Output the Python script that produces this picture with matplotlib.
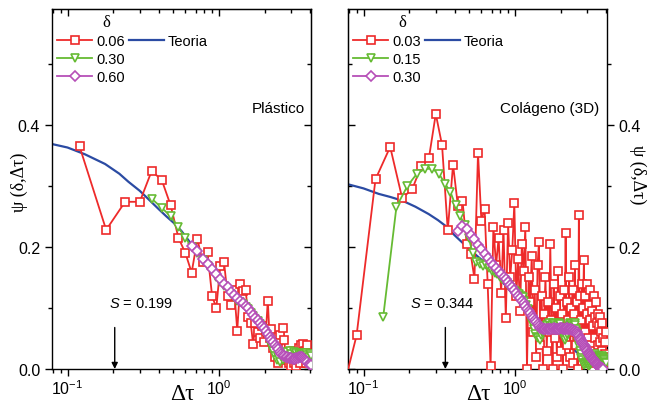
import numpy as np
import matplotlib
matplotlib.use('Agg')
import matplotlib.pyplot as plt
from matplotlib.ticker import MultipleLocator, LogLocator, NullFormatter
from matplotlib.lines import Line2D

plt.rcParams['font.family'] = ['Liberation Sans', 'DejaVu Sans']
plt.rcParams['mathtext.fontset'] = 'custom'
plt.rcParams['mathtext.rm'] = 'Liberation Sans'
plt.rcParams['mathtext.it'] = 'Liberation Sans:italic'
plt.rcParams['mathtext.bf'] = 'Liberation Sans:bold'

# ---------------- data: left panel (Plástico) ----------------
left_deltas = ['0.06', '0.30', '0.60']
left_step = 0.06
left_start = [0.12, 0.36, 0.66]
left_red = [0.365, 0.228, 0.274, 0.274, 0.325, 0.309, 0.268, 0.215, 0.190, 0.158,
            0.213, 0.176, 0.191, 0.120, 0.100, 0.169, 0.175, 0.120, 0.105, 0.130,
            0.063, 0.139, 0.128, 0.130, 0.085, 0.075, 0.041, 0.075, 0.060, 0.050,
            0.070, 0.045, 0.060, 0.112, 0.050, 0.065, 0.035, 0.020, 0.045, 0.010,
            0.055, 0.020, 0.068, 0.048, 0.015, 0.025, 0.010, 0.020, 0.005, 0.030,
            0.010, 0.025, 0.005, 0.015, 0.035, 0.010, 0.040, 0.025, 0.041, 0.020,
            0.030, 0.010, 0.040, 0.025, 0.015, 0.020]
left_green = [0.279, 0.264, 0.250, 0.232, 0.215, 0.200, 0.190, 0.178, 0.168, 0.160,
              0.150, 0.143, 0.136, 0.129, 0.123, 0.118, 0.112, 0.109, 0.106, 0.102,
              0.098, 0.092, 0.087, 0.082, 0.078, 0.073, 0.068, 0.063, 0.058, 0.052,
              0.045, 0.038, 0.030, 0.022, 0.015, 0.020, 0.012, 0.022, 0.015, 0.025,
              0.020, 0.028, 0.022, 0.030, 0.025, 0.020, 0.028, 0.022, 0.026, 0.020,
              0.025, 0.022, 0.027, 0.024, 0.020, 0.025, 0.022, 0.026, 0.023, 0.020,
              0.024, 0.022]
left_purple = [0.202, 0.193, 0.181, 0.172, 0.164, 0.156, 0.148, 0.140, 0.134, 0.127,
               0.121, 0.116, 0.112, 0.108, 0.104, 0.100, 0.094, 0.089, 0.084, 0.080,
               0.076, 0.071, 0.067, 0.063, 0.058, 0.053, 0.048, 0.044, 0.040, 0.036,
               0.032, 0.028, 0.025, 0.023, 0.021, 0.020, 0.019, 0.018, 0.018, 0.018,
               0.017, 0.017, 0.017, 0.018, 0.018, 0.019, 0.019, 0.020, 0.019, 0.018,
               0.017, 0.015, 0.013, 0.011, 0.009, 0.008, 0.007]
left_theory_x = [0.078, 0.10, 0.13, 0.177, 0.22, 0.252, 0.30, 0.35, 0.40, 0.45, 0.50,
                 0.566, 0.66, 0.80, 1.0, 1.25, 1.5, 1.75, 2.0, 2.25, 2.5, 2.75, 3.0]
left_theory_y = [0.369, 0.363, 0.352, 0.336, 0.320, 0.307, 0.292, 0.276, 0.262, 0.250,
                 0.240, 0.226, 0.204, 0.180, 0.150, 0.122, 0.100, 0.080, 0.062, 0.043,
                 0.027, 0.012, 0.0]
left_S = 0.199
left_S_x = 0.205

# ---------------- data: right panel (Colágeno 3D) ----------------
right_deltas = ['0.03', '0.15', '0.30']
right_step = 0.03
right_start = [0.06, 0.135, 0.42]
right_red = [-0.12, 0.055, 0.311, 0.364, 0.280, 0.295, 0.332, 0.345, 0.418, 0.367,
             0.227, 0.335, 0.267, 0.276, 0.205, 0.189, 0.148, 0.354, 0.243, 0.263,
             0.140, 0.005, 0.233, 0.170, 0.215, 0.125, 0.227, 0.083, 0.240, 0.150,
             0.195, 0.272, 0.120, 0.180, 0.095, 0.205, 0.160, 0.232, 0.000, 0.150,
             0.110, 0.185, 0.060, 0.130, 0.020, 0.170, 0.208, 0.040, 0.120, 0.000,
             0.090, 0.150, 0.030, 0.110, 0.060, 0.205, 0.080, 0.000, 0.140, 0.050,
             0.100, 0.020, 0.160, 0.070, 0.120, 0.030, 0.090, 0.000, 0.130, 0.060,
             0.223, 0.040, 0.110, 0.080, 0.150, 0.020, 0.100, 0.060, 0.130, 0.010,
             0.090, 0.170, 0.040, 0.110, 0.070, 0.000, 0.252, 0.050, 0.120, 0.080,
             0.140, 0.030, 0.100, 0.178, 0.060, 0.120, 0.010, 0.090, 0.140, 0.050,
             0.105, 0.020, 0.080, 0.130, 0.040, 0.095, 0.000, 0.070, 0.120, 0.030,
             0.085, 0.050, 0.110, 0.010, 0.075, 0.040, 0.090, 0.020, 0.070, 0.045,
             0.085, 0.015, 0.060, 0.030, 0.075, 0.020, 0.050, 0.010, 0.045, 0.025,
             0.060, 0.020]
right_green = [0.086, 0.266, 0.300, 0.320, 0.328, 0.328, 0.320, 0.304, 0.290, 0.268,
               0.251, 0.236, 0.215, 0.190, 0.175, 0.172, 0.168, 0.170, 0.165, 0.160,
               0.158, 0.155, 0.150, 0.148, 0.146, 0.140, 0.138, 0.133, 0.130, 0.128,
               0.125, 0.123, 0.120, 0.118, 0.112, 0.105, 0.098, 0.090, 0.082, 0.075,
               0.066, 0.058, 0.052, 0.050, 0.048, 0.055, 0.060, 0.062, 0.065, 0.070,
               0.072, 0.075, 0.070, 0.068, 0.072, 0.076, 0.074, 0.070, 0.066, 0.068,
               0.072, 0.075, 0.073, 0.068, 0.060, 0.055, 0.050, 0.048, 0.052, 0.058,
               0.064, 0.070, 0.074, 0.076, 0.074, 0.070, 0.068, 0.072, 0.075, 0.072,
               0.066, 0.060, 0.052, 0.045, 0.038, 0.030, 0.024, 0.018, 0.014, 0.010,
               0.008, 0.006, 0.008, 0.010, 0.012, 0.010, 0.008, 0.006, 0.005, 0.006,
               0.008, 0.010, 0.012, 0.014, 0.016, 0.018, 0.020, 0.022, 0.024, 0.022,
               0.020, 0.018, 0.016, 0.018, 0.020, 0.022, 0.020, 0.018, 0.016, 0.018,
               0.020, 0.022, 0.020, 0.018, 0.016, 0.014, 0.012, 0.010, 0.010]
right_purple = [0.226, 0.234, 0.229, 0.219, 0.213, 0.204, 0.196, 0.189, 0.182, 0.176,
                0.171, 0.165, 0.160, 0.155, 0.151, 0.147, 0.142, 0.138, 0.134, 0.130,
                0.125, 0.120, 0.116, 0.112, 0.108, 0.103, 0.099, 0.095, 0.091, 0.087,
                0.083, 0.080, 0.077, 0.073, 0.070, 0.068, 0.067, 0.066, 0.065, 0.065,
                0.065, 0.066, 0.066, 0.065, 0.065, 0.066, 0.067, 0.066, 0.065, 0.065,
                0.066, 0.066, 0.067, 0.068, 0.067, 0.066, 0.066, 0.065, 0.066, 0.067,
                0.067, 0.066, 0.066, 0.065, 0.065, 0.064, 0.064, 0.064, 0.063, 0.062,
                0.061, 0.060, 0.058, 0.056, 0.054, 0.051, 0.049, 0.047, 0.045, 0.043,
                0.041, 0.039, 0.037, 0.035, 0.033, 0.031, 0.029, 0.027, 0.026, 0.024,
                0.023, 0.021, 0.020, 0.018, 0.017, 0.016, 0.015, 0.013, 0.012, 0.011,
                0.010, 0.009, 0.008, 0.007, 0.006, 0.005, 0.004, 0.004, 0.003, 0.002,
                0.002, 0.001, 0.001, 0.000, 0.000]
right_theory_x = [0.081, 0.10, 0.126, 0.15, 0.18, 0.22, 0.269, 0.31, 0.346, 0.40, 0.45,
                  0.506, 0.622, 0.75, 0.942, 1.1, 1.27, 1.6, 2.01, 2.35, 2.72, 3.16, 3.4]
right_theory_y = [0.302, 0.296, 0.287, 0.282, 0.276, 0.266, 0.254, 0.244, 0.235, 0.219,
                  0.207, 0.195, 0.176, 0.155, 0.126, 0.108, 0.093, 0.070, 0.049, 0.035,
                  0.022, 0.005, 0.0]
right_S = 0.344
right_S_x = 0.347

# ---------------- styling ----------------
COLORS = ['#EE2A2A', '#66BB33', '#B64FB8']
MARKERS = ['s', 'v', 'D']
MSIZES = [5.3, 6, 5]
BLUE = '#2B4BA3'
SERIF = ['Liberation Serif', 'DejaVu Serif']
W, H = 652, 410

fig = plt.figure(figsize=(6.52, 4.10), dpi=100)
axL = fig.add_axes([52 / W, 40 / H, 259 / W, 360 / H])
axR = fig.add_axes([348 / W, 40 / H, 259 / W, 360 / H])


def panel(ax, deltas, step, starts, series, tx, ty, name, name_x, S, Sx, Stext_x, side):
    th, = ax.plot(tx, ty, color=BLUE, lw=1.6, zorder=2, label='Teoria')
    handles = []
    for i, (d, st, ys) in enumerate(zip(deltas, starts, series)):
        xs = st + step * np.arange(len(ys))
        h, = ax.plot(xs, ys, color=COLORS[i], lw=1.3, marker=MARKERS[i],
                     ms=MSIZES[i], mfc='white', mec=COLORS[i], mew=1.2,
                     zorder=3 + i, label=d)
        handles.append(h)
    ax.set_xscale('log')
    ax.set_xlim(0.079, 4.05)
    ax.set_ylim(0, 0.59)
    ax.yaxis.set_major_locator(MultipleLocator(0.2))
    ax.yaxis.set_minor_locator(MultipleLocator(0.1))
    ax.yaxis.set_major_formatter(plt.FuncFormatter(lambda v, p: f'{v:.1f}'))
    ax.xaxis.set_major_locator(LogLocator(base=10))
    ax.xaxis.set_minor_locator(LogLocator(base=10, subs=np.arange(2, 10)))
    ax.xaxis.set_minor_formatter(NullFormatter())
    ax.tick_params(which='both', direction='out', labelsize=11.5, width=1)
    ax.tick_params(which='major', length=5)
    ax.tick_params(which='minor', length=3)
    ax.tick_params(axis='x', top=False, pad=2)
    # mirrored axes with inward ticks
    secx = ax.secondary_xaxis('top')
    secx.xaxis.set_major_locator(LogLocator(base=10))
    secx.xaxis.set_minor_locator(LogLocator(base=10, subs=np.arange(2, 10)))
    secx.xaxis.set_major_formatter(NullFormatter())
    secx.xaxis.set_minor_formatter(NullFormatter())
    secx.tick_params(which='both', direction='in', width=1)
    secx.tick_params(which='major', length=5)
    secx.tick_params(which='minor', length=3)
    other = 'right' if side == 'left' else 'left'
    secy = ax.secondary_yaxis(other)
    secy.yaxis.set_major_locator(MultipleLocator(0.2))
    secy.yaxis.set_minor_locator(MultipleLocator(0.1))
    secy.yaxis.set_major_formatter(NullFormatter())
    secy.tick_params(which='both', direction='in', width=1)
    secy.tick_params(which='major', length=5)
    secy.tick_params(which='minor', length=3)
    if side == 'right':
        ax.yaxis.tick_right()
        ax.tick_params(axis='y', left=False)
    else:
        ax.tick_params(axis='y', right=False)
    # x label sits beside the tick labels
    ax.text(0.505, -0.069, 'Δτ', transform=ax.transAxes, ha='center', va='center',
            family=SERIF, fontsize=17)
    for sp in ax.spines.values():
        sp.set_linewidth(1.0)

    blank = Line2D([], [], color='none')
    leg = ax.legend(handles + [th, blank, blank], deltas + ['Teoria', '', ''],
                    ncol=2, loc='upper left', bbox_to_anchor=(0.0, 1.0),
                    frameon=False, fontsize=10.5, title='δ',
                    title_fontproperties={'family': SERIF, 'size': 12},
                    handlelength=2.4, handletextpad=0.3, columnspacing=0.25,
                    labelspacing=0.28, borderaxespad=0.15, borderpad=0.2)
    leg._legend_box.align = 'left'
    leg.get_title().set_position((45, 0))

    ax.text(name_x, 0.725, name, transform=ax.transAxes, ha='right', va='center',
            fontsize=11)
    ax.text(Stext_x, 0.108, f'$S$ = {S}', ha='center', va='center', fontsize=10.5)
    ax.annotate('', xy=(Sx, 0.0), xytext=(Sx, 0.068),
                arrowprops=dict(arrowstyle='-|>', color='black', lw=1,
                                mutation_scale=9, shrinkA=0, shrinkB=0))


panel(axL, left_deltas, left_step, left_start, [left_red, left_green, left_purple],
      left_theory_x, left_theory_y, 'Plástico', 0.975, left_S, left_S_x, 0.307, 'left')
panel(axR, right_deltas, right_step, right_start, [right_red, right_green, right_purple],
      right_theory_x, right_theory_y, 'Colágeno (3D)', 0.97, right_S, right_S_x, 0.33, 'right')

# y labels
fig.text(19 / W, 1 - 182 / H, 'ψ (δ,Δτ)', family=SERIF, fontsize=13, rotation=90,
         ha='center', va='center')
fig.text(638 / W, 1 - 175 / H, 'ψ (δ,Δτ)', family=SERIF, fontsize=13, rotation=-90,
         ha='center', va='center')

fig.savefig('out.png', dpi=100)
